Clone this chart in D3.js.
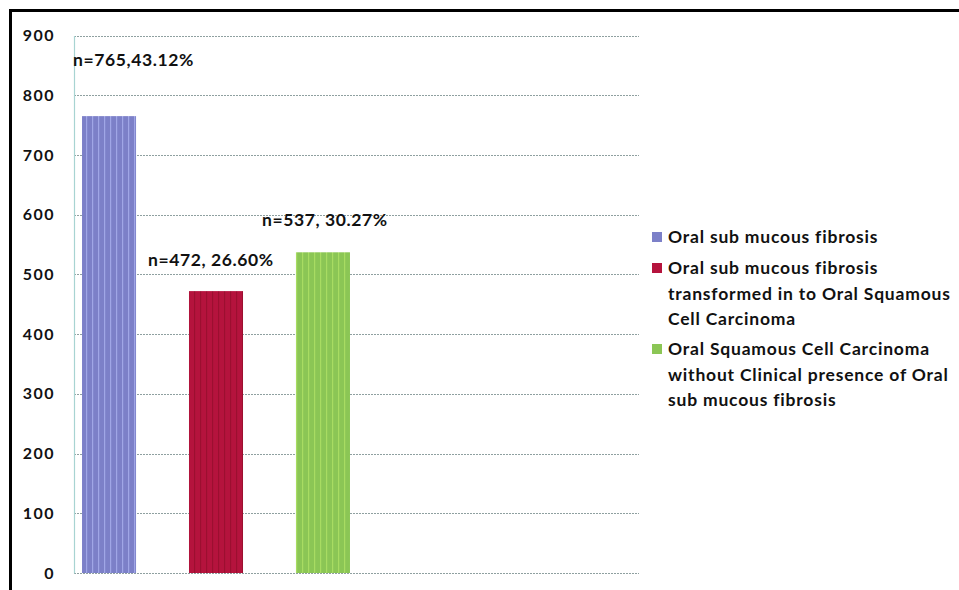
<!DOCTYPE html>
<html><head><meta charset="utf-8">
<script src="https://cdn.jsdelivr.net/npm/d3@7/dist/d3.min.js"></script>
<style>body{margin:0;background:#fff}svg{display:block}text{font-family:Lato,"Open Sans",sans-serif;font-weight:bold;fill:#111}</style>
</head><body><svg id="c" width="959" height="590"></svg>
<script>
const categories = ["Oral sub mucous fibrosis","Oral sub mucous fibrosis transformed in to Oral Squamous Cell Carcinoma","Oral Squamous Cell Carcinoma without Clinical presence of Oral sub mucous fibrosis"];
const values = [765, 472, 537];
const labels = ["n=765,43.12%", "n=472, 26.60%", "n=537, 30.27%"];
const legendLines = [["Oral sub mucous fibrosis"],["Oral sub mucous fibrosis","transformed in to Oral Squamous","Cell Carcinoma"],["Oral Squamous Cell Carcinoma","without Clinical presence of Oral","sub mucous fibrosis"]];
const yTicks = [0,100,200,300,400,500,600,700,800,900];
const colors = [{base:"#7c80c8",stripe:"#a0a6e6"},{base:"#b5133d",stripe:"#9c0f30"},{base:"#8bc655",stripe:"#a8dc62"}];

(function(){
const svg = d3.select("#c");
const pL = 74, pR = 639, pT = 35.5, pB = 573;
const y = d3.scaleLinear().domain([0,900]).range([pB, pT]);
const x = d3.scaleBand().domain(categories).range([pL, 358]).paddingInner(0.495).paddingOuter(0.075);

// border
svg.append("line").attr("x1",9).attr("x2",959).attr("y1",10.5).attr("y2",10.5).attr("stroke","#000").attr("stroke-width",3);
svg.append("line").attr("x1",10.5).attr("x2",10.5).attr("y1",9).attr("y2",590).attr("stroke","#000").attr("stroke-width",3);

// patterns
const defs = svg.append("defs");
colors.forEach((c,i)=>{
  const p = defs.append("pattern").attr("id","p"+i).attr("patternUnits","userSpaceOnUse").attr("width",6).attr("height",10);
  p.append("rect").attr("width",6).attr("height",10).attr("fill",c.base);
  p.append("rect").attr("x",2).attr("width",1.2).attr("height",10).attr("fill",c.stripe);
});

// gridlines
svg.append("g").selectAll("line").data(yTicks).join("line")
  .attr("x1",pL).attr("x2",pR).attr("y1",d=>Math.round(y(d))+0.5).attr("y2",d=>Math.round(y(d))+0.5)
  .attr("stroke","#8fa0a0").attr("stroke-width",1.2).attr("stroke-dasharray","2,1");

// y axis
const yAxis = d3.axisLeft(y).tickValues(yTicks).tickSize(0).tickPadding(19);
const ga = svg.append("g").attr("transform",`translate(${pL},0)`).call(yAxis);
ga.select(".domain").attr("stroke","#a8d4d2").attr("stroke-width",1.2);
ga.selectAll("text").attr("font-size",16).attr("fill","#111").attr("letter-spacing",1.5)
  .style("font-family","Lato,sans-serif").style("font-weight","bold");

// bars
svg.append("g").selectAll("rect").data(values).join("rect")
  .attr("x",(d,i)=>x(categories[i])).attr("width",x.bandwidth())
  .attr("y",d=>y(d)).attr("height",d=>y(0)-y(d))
  .attr("fill",(d,i)=>`url(#p${i})`);

// labels
const labelPos = [{dx:-9,dy:-50},{dx:-41,dy:-25},{dx:-34,dy:-26}];
svg.append("g").selectAll("text").data(values).join("text")
  .attr("x",(d,i)=>x(categories[i])+labelPos[i].dx)
  .attr("y",(d,i)=>y(d)+labelPos[i].dy)
  .attr("font-size",17.5).attr("letter-spacing",0.6).text((d,i)=>labels[i]);

// legend
const lg = svg.append("g");
const lgY = [237, 268, 349];
legendLines.forEach((lines,i)=>{
  lg.append("rect").attr("x",652).attr("y",lgY[i]-5).attr("width",10).attr("height",10).attr("fill",colors[i].base);
  lines.forEach((t,j)=>{
    lg.append("text").attr("x",668).attr("y",lgY[i]+j*25.5).attr("dy","0.35em").attr("font-size",17.5).attr("letter-spacing",0.8).text(t);
  });
});
})();
</script></body></html>
